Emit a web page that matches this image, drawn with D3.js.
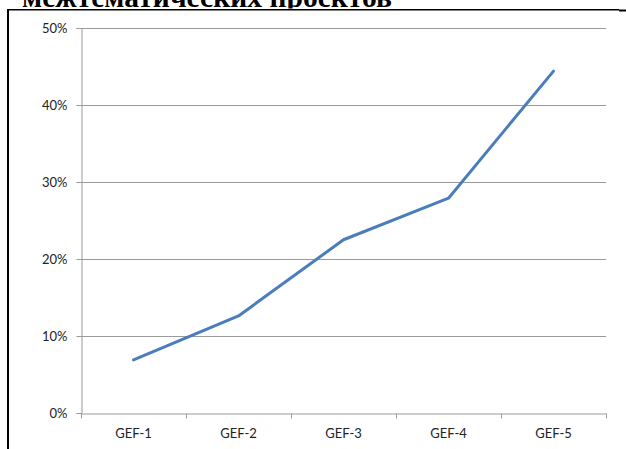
<!DOCTYPE html>
<html>
<head>
<meta charset="utf-8">
<script src="https://cdn.jsdelivr.net/npm/d3@7"></script>
<style>
  html, body { margin: 0; padding: 0; background: #fff; }
  svg { display: block; }
</style>
</head>
<body>
<svg id="chart" width="626" height="449"></svg>
<script>
const titleText = "межтематических проектов";
const categories = ["GEF-1", "GEF-2", "GEF-3", "GEF-4", "GEF-5"];
const values = [0.069, 0.126, 0.225, 0.279, 0.444];
const yTicks = [0, 0.1, 0.2, 0.3, 0.4, 0.5];

const svg = d3.select("#chart");
const plotLeft = 81, plotRight = 606, plotTop = 28, plotBottom = 413;

// frame and cropped title (the reference shows only its lower part)
svg.append("text")
  .attr("x", 22).attr("y", 7)
  .attr("textLength", 370).attr("lengthAdjust", "spacingAndGlyphs")
  .attr("font-family", "'Liberation Serif', 'Times New Roman', serif")
  .attr("font-weight", "bold").attr("font-size", 29)
  .attr("fill", "#000")
  .text(titleText);
svg.append("rect").attr("x", 0).attr("y", 8.5).attr("width", 626).attr("height", 441).attr("fill", "#fff");
svg.append("line").attr("x1", 7).attr("x2", 619).attr("y1", 9.75).attr("y2", 9.75)
  .attr("stroke", "#000").attr("stroke-width", 1.5);
svg.append("line").attr("x1", 619).attr("x2", 626).attr("y1", 10.5).attr("y2", 10.5)
  .attr("stroke", "#000").attr("stroke-width", 2);
svg.append("line").attr("x1", 8).attr("x2", 8).attr("y1", 9).attr("y2", 449)
  .attr("stroke", "#000").attr("stroke-width", 2);

const x = d3.scaleBand().domain(categories).range([plotLeft, plotRight]);
const y = d3.scaleLinear().domain([0, 0.5]).range([plotBottom, plotTop]);

const labelFont = "Lato, 'Open Sans', sans-serif";

// gridlines
svg.append("g").selectAll("line").data(yTicks.filter(d => d > 0)).join("line")
  .attr("x1", plotLeft).attr("x2", plotRight)
  .attr("y1", d => Math.round(y(d)) + 0.5).attr("y2", d => Math.round(y(d)) + 0.5)
  .attr("stroke", "#9a9a9a").attr("stroke-width", 1);

// y axis
const yAxis = svg.append("g")
  .attr("transform", `translate(${plotLeft + 0.5},0)`)
  .call(d3.axisLeft(y).tickValues(yTicks).tickFormat(d3.format(".0%")).tickSize(5).tickPadding(9));
yAxis.select(".domain").attr("stroke", "#9a9a9a");
yAxis.selectAll(".tick line").attr("stroke", "#9a9a9a");
yAxis.selectAll(".tick text").attr("font-family", labelFont).attr("font-size", 13).attr("fill", "#222");

// x axis
const xAxis = svg.append("g")
  .attr("transform", `translate(0,${Math.round(plotBottom) + 0.5})`)
  .call(d3.axisBottom(x).tickSize(0).tickPadding(15));
xAxis.select(".domain").attr("stroke", "#9a9a9a");
xAxis.selectAll(".tick line").remove();
xAxis.selectAll(".tick text").attr("font-family", labelFont).attr("font-size", 13).attr("fill", "#222");
// category boundary ticks
const bounds = categories.map(c => x(c)).concat([plotRight]);
xAxis.append("g").selectAll("line").data(bounds).join("line")
  .attr("x1", d => Math.round(d) + 0.5).attr("x2", d => Math.round(d) + 0.5)
  .attr("y1", 0).attr("y2", 5)
  .attr("stroke", "#9a9a9a");

// line
const line = d3.line()
  .x((d, i) => x(categories[i]) + x.bandwidth() / 2)
  .y(d => y(d));
svg.append("path").datum(values)
  .attr("d", line)
  .attr("fill", "none")
  .attr("stroke", "#4a7ebb")
  .attr("stroke-width", 3)
  .attr("stroke-linecap", "round")
  .attr("stroke-linejoin", "round");
</script>
</body>
</html>
